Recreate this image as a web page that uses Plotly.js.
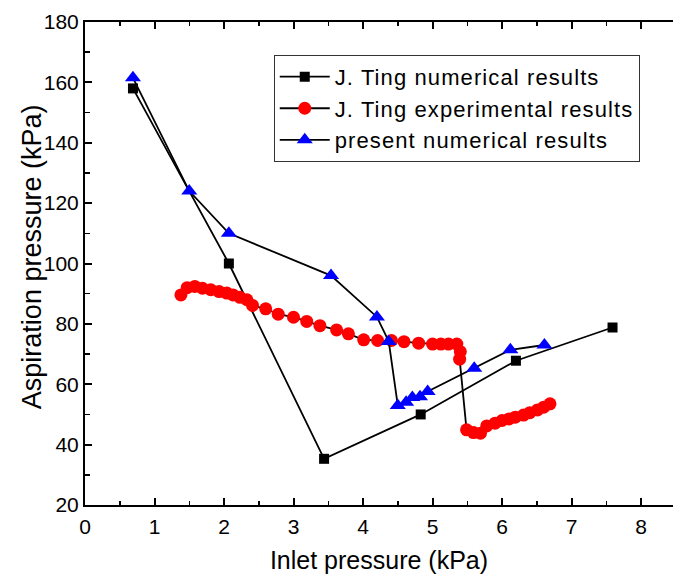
<!DOCTYPE html>
<html>
<head>
<meta charset="utf-8">
<script src="https://cdn.plot.ly/plotly-3.0.1.min.js"></script>
<style>
html,body{margin:0;padding:0;background:#fff;}
#chart{width:673px;height:574px;}
.legendtext{letter-spacing:1.1px;}
</style>
</head>
<body>
<div id="chart"></div>
<script>
// J. Ting numerical results
const tingNumX = [0.69, 2.07, 3.44, 4.83, 6.2, 7.59];
const tingNumY = [158, 100, 35.3, 50, 67.8, 78.8];

// J. Ting experimental results
const tingExpX = [1.38,1.47,1.58,1.69,1.81,1.93,2.04,2.13,2.23,2.33,2.41,2.6,2.78,3.0,3.19,3.38,3.62,3.79,4.01,4.21,4.41,4.59,4.8,5.0,5.12,5.23,5.35,5.4,5.39,5.49,5.59,5.69,5.78,5.9,6.0,6.1,6.19,6.31,6.4,6.51,6.6,6.69];
const tingExpY = [89.6,92.0,92.4,91.8,91.3,90.7,90.2,89.6,88.8,88.0,86.1,85.0,83.2,82.2,80.8,79.4,78.0,76.7,74.7,74.5,74.5,74.1,73.6,73.3,73.3,73.3,73.3,70.8,68.3,44.9,44.0,43.8,46.2,47.1,48.0,48.5,49.1,49.8,50.6,51.5,52.4,53.5];

// present numerical results
const presX = [0.69, 1.5, 2.07, 3.54, 4.2, 4.37, 4.5, 4.62, 4.71, 4.82, 4.93, 5.6, 6.12, 6.61];
const presY = [161.5, 124, 110, 96, 82.3, 74.2, 53, 54, 55.6, 55.9, 57.6, 65.3, 71.4, 73.0];

// axis titles
const xTitle = 'Inlet pressure (kPa)';
const yTitle = 'Aspiration pressure (kPa)';

const lineStyle = {color: '#000', width: 1.8};

const traces = [
  {x: tingNumX, y: tingNumY, mode: 'lines+markers', name: 'J. Ting numerical results',
   line: lineStyle, marker: {symbol: 'square', size: 10, color: '#000'}},
  {x: tingExpX, y: tingExpY, mode: 'lines+markers', name: 'J. Ting experimental results',
   line: lineStyle, marker: {symbol: 'circle', size: 13, color: '#ff0000'}},
  {x: presX, y: presY, mode: 'lines+markers', name: 'present numerical results',
   line: lineStyle, marker: {symbol: 'triangle-up', size: 14, color: '#0000ff'}}
];

const fam = '"Liberation Sans", Arial, sans-serif';

const layout = {
  width: 673, height: 574,
  margin: {l: 85, r: 0, t: 22, b: 69},
  paper_bgcolor: '#fff', plot_bgcolor: '#fff',
  font: {family: fam, color: '#000'},
  showlegend: true,
  legend: {
    x: 0.321, y: 0.932, xanchor: 'left', yanchor: 'top',
    bgcolor: '#fff', bordercolor: '#333', borderwidth: 1,
    font: {family: fam, size: 22, color: '#000'},
    itemwidth: 50,
    tracegroupgap: 0
  },
  xaxis: {
    range: [0, 8.46], tickmode: 'linear', tick0: 0, dtick: 1,
    showgrid: false, zeroline: false, automargin: false,
    showline: true, linecolor: '#000', linewidth: 2, mirror: 'ticks',
    ticks: 'inside', ticklen: 7, tickwidth: 2, tickcolor: '#000',
    minor: {ticks: 'inside', ticklen: 4, tickwidth: 1.5, tickcolor: '#000', dtick: 0.5, showgrid: false},
    tickfont: {family: fam, size: 21, color: '#000'},
    ticklabelstandoff: 2,
    title: {text: xTitle, font: {family: fam, size: 25, color: '#000'}, standoff: 19}
  },
  yaxis: {
    range: [20, 180], tickmode: 'linear', tick0: 20, dtick: 20,
    showgrid: false, zeroline: false, automargin: false,
    showline: true, linecolor: '#000', linewidth: 2, mirror: false,
    ticks: 'inside', ticklen: 7, tickwidth: 2, tickcolor: '#000',
    minor: {ticks: 'inside', ticklen: 5, tickwidth: 1.5, tickcolor: '#000', dtick: 10, showgrid: false},
    tickfont: {family: fam, size: 21, color: '#000'}
  },
  annotations: [{
    text: yTitle, xref: 'paper', yref: 'paper', x: -0.089, y: 0.5145,
    xanchor: 'center', yanchor: 'middle', textangle: -90, showarrow: false,
    font: {family: fam, size: 27, color: '#000'}
  }]
};

Plotly.newPlot('chart', traces, layout, {displayModeBar: false, staticPlot: true});
</script>
</body>
</html>
